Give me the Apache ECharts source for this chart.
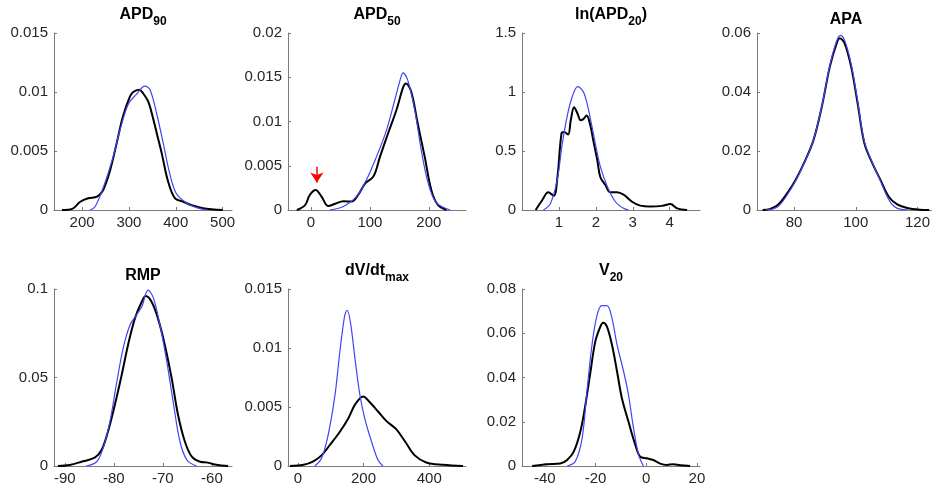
<!DOCTYPE html>
<html><head><meta charset="utf-8">
<script src="https://cdn.jsdelivr.net/npm/echarts@6/dist/echarts.min.js"></script>
<style>html,body{margin:0;padding:0;background:#fff}#c{width:933px;height:490px}</style>
</head><body><div id="c"></div><script>
// ---------- data ----------
// APD90
const apd90X_obs = [157,179,196,213,232,245,260,274,287,302,309,322,330,341,352,360,370,383,398,416,434,458,500];
const apd90Y_obs = [0,0.0001,0.0007,0.001,0.00113,0.0017,0.0034,0.0057,0.0079,0.0096,0.0100,0.0102,0.0099,0.0092,0.0077,0.0064,0.0048,0.0025,0.0010,0.0007,0.0004,0.00015,0];
const apd90X_mod = [217,228,246,264,281,299,316,334,345,359,373,387,401,423,445,466];
const apd90Y_mod = [0,0.0003,0.002,0.0042,0.0068,0.009,0.0098,0.0105,0.0102,0.0082,0.0057,0.0031,0.0014,0.0006,0.0002,0];
const apd90XTicks = [200,300,400,500];
const apd90YTicks = [0,0.005,0.01,0.015];
// APD50
const apd50X_obs = [-24,-10,-2,8,18,29,41,55,69,80,92,106,117,131,145,156,161,170,181,193,204,215,230];
const apd50Y_obs = [0,0.00056,0.0017,0.00226,0.0015,0.00045,0.0007,0.001,0.00095,0.0017,0.003,0.0038,0.006,0.0087,0.0113,0.0138,0.0143,0.0134,0.0098,0.006,0.0023,0.0006,0];
const apd50X_mod = [32,55,77,94,111,128,142,153,156,164,176,187,199,213,236];
const apd50Y_mod = [0,0.0004,0.0015,0.0034,0.006,0.009,0.0124,0.0151,0.0155,0.0147,0.0113,0.0068,0.003,0.0008,0];
const apd50XTicks = [0,100,200];
const apd50YTicks = [0,0.005,0.01,0.015,0.02];
const apd50Arrow = [[10,0.0049],[10,0.0031]];
// ln(APD20)
const lnapd20X_obs = [0.37,0.55,0.71,0.86,0.96,1.07,1.14,1.25,1.32,1.41,1.50,1.59,1.66,1.75,1.84,1.93,2.04,2.12,2.26,2.39,2.57,2.75,2.98,3.20,3.48,3.79,4.02,4.20,4.47];
const lnapd20Y_obs = [0,0.085,0.15,0.12,0.28,0.65,0.66,0.64,0.76,0.87,0.82,0.76,0.77,0.80,0.73,0.59,0.42,0.28,0.21,0.15,0.15,0.13,0.07,0.037,0.03,0.035,0.05,0.014,0];
const lnapd20X_mod = [0.58,0.77,0.95,1.09,1.22,1.36,1.51,1.68,1.86,2.0,2.12,2.31,2.53,2.75,2.89];
const lnapd20Y_mod = [0,0.056,0.25,0.56,0.79,0.96,1.045,0.99,0.76,0.54,0.37,0.2,0.07,0.014,0];
const lnapd20XTicks = [1,2,3,4];
const lnapd20YTicks = [0,0.5,1,1.5];
// APA
const apaX_obs = [69.8,72.1,74.7,77.4,80.5,83.7,86.3,89.0,91.6,93.8,94.8,96.4,98.5,100.6,102.8,105.4,108.0,110.7,113.3,117.0,120.7,123.8];
const apaY_obs = [0,0.0003,0.0017,0.0051,0.0102,0.017,0.0237,0.035,0.0486,0.0565,0.0582,0.0565,0.0486,0.0362,0.0226,0.0158,0.0102,0.0045,0.002,0.0006,0.0001,0];
const apaX_mod = [70.8,73,75,77.4,80.5,83.7,86.3,89,91.6,93.8,95,96.4,98.5,100.6,102.8,105.4,108,110.7,112.5,114.3,117];
const apaY_mod = [0,0.0003,0.0013,0.0045,0.0098,0.0168,0.0237,0.0352,0.049,0.0573,0.0592,0.0575,0.0495,0.037,0.0232,0.016,0.0098,0.0035,0.0012,0.0003,0];
const apaXTicks = [80,100,120];
const apaYTicks = [0,0.02,0.04,0.06];
// RMP
const rmpX_obs = [-91.4,-89,-86.6,-83.9,-82.5,-81.2,-79.8,-78.4,-77.1,-75.7,-74.3,-73.5,-72.3,-71.0,-69.6,-68.2,-66.9,-65.5,-64.1,-62.4,-60.8,-59.1,-56.7];
const rmpY_obs = [0,0.0006,0.0024,0.0047,0.009,0.0194,0.0345,0.0514,0.0684,0.0834,0.0928,0.096,0.0928,0.0834,0.0684,0.0495,0.0288,0.0137,0.0053,0.0024,0.0019,0.0007,0];
const rmpX_mod = [-85.6,-83.5,-82.2,-80.8,-79.5,-78.1,-76.7,-75.4,-74.3,-73.0,-71.9,-70.6,-69.2,-67.8,-66.5,-65.1,-63.1];
const rmpY_mod = [0,0.0024,0.01,0.025,0.0458,0.0665,0.0797,0.0853,0.09,0.0994,0.0947,0.0797,0.059,0.0345,0.0137,0.0034,0];
const rmpXTicks = [-90,-80,-70,-60];
const rmpYTicks = [0,0.05,0.1];
// dV/dt max
const dvdtX_obs = [-24,17,47,72,98,128,153,174,199,219,245,270,300,326,356,391,442,503];
const dvdtY_obs = [0,0.0001,0.0004,0.0009,0.0018,0.0029,0.004,0.0052,0.0059,0.0054,0.0046,0.0038,0.0031,0.0021,0.0009,0.0003,0.0001,0];
const dvdtX_mod = [52,72,92,113,128,143,150,160,174,189,204,224,244,259];
const dvdtY_mod = [0,0.00065,0.0026,0.006,0.0097,0.0128,0.0132,0.0122,0.0091,0.006,0.004,0.0021,0.0005,0];
const dvdtXTicks = [0,200,400];
const dvdtYTicks = [0,0.005,0.01,0.015];
// V20
const v20X_obs = [-45,-39.1,-33.9,-31.2,-28.6,-26,-24,-22,-20.1,-18.1,-17,-15.5,-13.5,-11.5,-9.6,-7,-4.3,-2.4,0.2,2.8,5.5,8.1,10.7,13.4,17.3];
const v20Y_obs = [0,0.0008,0.0011,0.0027,0.0065,0.0155,0.0276,0.0426,0.0562,0.063,0.0648,0.063,0.0547,0.0426,0.0306,0.02,0.0095,0.0042,0.0035,0.0027,0.0011,0.0005,0.0008,0.0003,0];
const v20X_mod = [-31.2,-28,-25.3,-23.4,-21.4,-19.4,-17.5,-15.5,-13.5,-11.5,-8.9,-7,-5,-3,-1.1];
const v20Y_mod = [0,0.002,0.0125,0.0336,0.0547,0.0682,0.0725,0.0725,0.0667,0.0547,0.0426,0.0321,0.017,0.005,0];
const v20XTicks = [-40,-20,0,20];
const v20YTicks = [0,0.02,0.04,0.06,0.08];

// ---------- layout ----------
const FONT = "'Liberation Sans', Arial, sans-serif";
const zip = (xs, ys) => xs.map((x, i) => [x, ys[i]]);
const panels = [
  {main:'APD', sub:'90', post:'', ox:apd90X_obs, oy:apd90Y_obs, mx:apd90X_mod, my:apd90Y_mod, xr:[140,520], xt:apd90XTicks, yr:[0,0.015], yt:apd90YTicks, left:54, top:33},
  {main:'APD', sub:'50', post:'', ox:apd50X_obs, oy:apd50Y_obs, mx:apd50X_mod, my:apd50Y_mod, xr:[-39,263], xt:apd50XTicks, yr:[0,0.02], yt:apd50YTicks, left:288, top:33, arrow:apd50Arrow},
  {main:'ln(APD', sub:'20', post:')', ox:lnapd20X_obs, oy:lnapd20Y_obs, mx:lnapd20X_mod, my:lnapd20Y_mod, xr:[0,4.82], xt:lnapd20XTicks, yr:[0,1.5], yt:lnapd20YTicks, left:522, top:33},
  {main:'APA', sub:'', post:'', ox:apaX_obs, oy:apaY_obs, mx:apaX_mod, my:apaY_mod, xr:[68,124.5], xt:apaXTicks, yr:[0,0.06], yt:apaYTicks, left:757, top:33},
  {main:'RMP', sub:'', post:'', ox:rmpX_obs, oy:rmpY_obs, mx:rmpX_mod, my:rmpY_mod, xr:[-92.2,-55.9], xt:rmpXTicks, yr:[0,0.1], yt:rmpYTicks, left:54, top:289},
  {main:'dV/dt', sub:'max', post:'', ox:dvdtX_obs, oy:dvdtY_obs, mx:dvdtX_mod, my:dvdtY_mod, xr:[-30,512], xt:dvdtXTicks, yr:[0,0.015], yt:dvdtYTicks, left:288, top:289},
  {main:'V', sub:'20', post:'', ox:v20X_obs, oy:v20Y_obs, mx:v20X_mod, my:v20Y_mod, xr:[-49,21.2], xt:v20XTicks, yr:[0,0.08], yt:v20YTicks, left:522, top:289}
];
const W = 178, H = 177;
const axisColor = '#7a7a7a', labelColor = '#262626';

const grid = [], xAxis = [], yAxis = [], series = [], title = [];
panels.forEach((p, i) => {
  grid.push({left:p.left, top:p.top, width:W, height:H, containLabel:false});
  const common = {
    axisLine:{show:true, onZero:false, lineStyle:{color:axisColor, width:1}},
    axisTick:{show:true, inside:true, length:3, lineStyle:{color:axisColor}},
    splitLine:{show:false}
  };
  xAxis.push(Object.assign({}, common, {
    type:'value', gridIndex:i, min:p.xr[0], max:p.xr[1],
    axisTick:Object.assign({}, common.axisTick, {customValues:p.xt}),
    axisLabel:{customValues:p.xt, color:labelColor, fontSize:15, fontFamily:FONT, margin:5}
  }));
  yAxis.push(Object.assign({}, common, {
    type:'value', gridIndex:i, min:p.yr[0], max:p.yr[1],
    axisTick:Object.assign({}, common.axisTick, {customValues:p.yt}),
    axisLabel:{customValues:p.yt, color:labelColor, fontSize:15, fontFamily:FONT, margin:6}
  }));
  const black = {type:'line', xAxisIndex:i, yAxisIndex:i, data:zip(p.ox, p.oy), showSymbol:false, smooth:0.35,
    lineStyle:{color:'#000', width:2}, z:2};
  if (p.arrow) {
    black.markLine = {silent:true, symbol:['none','arrow'], symbolSize:[10,10], label:{show:false},
      lineStyle:{color:'#ff0000', width:1.5, type:'solid'}, itemStyle:{color:'#ff0000'},
      data:[[{coord:p.arrow[0]}, {coord:p.arrow[1]}]]};
  }
  series.push(black);
  series.push({type:'line', xAxisIndex:i, yAxisIndex:i, data:zip(p.mx, p.my), showSymbol:false, smooth:0.35,
    lineStyle:{color:'#4343f5', width:1.2}, z:3});
  const hasSub = p.sub !== '';
  const text = '{m|' + p.main + '}' + (hasSub ? '{s|' + p.sub + '}' : '') + (p.post ? '{m|' + p.post + '}' : '');
  title.push({
    text, left:p.left + W/2, textAlign:'center', top: hasSub ? p.top - 26.5 : p.top - 21.5, padding:0,
    textStyle:{rich:{
      m:{fontSize:16, fontWeight:'bold', fontFamily:FONT, color:'#000', lineHeight:18, verticalAlign:'top'},
      s:{fontSize:12, fontWeight:'bold', fontFamily:FONT, color:'#000', lineHeight:14, padding:[9,0,0,0], verticalAlign:'top'}
    }}
  });
});

const chart = echarts.init(document.getElementById('c'), null, {renderer:'canvas'});
chart.setOption({animation:false, backgroundColor:'#fff', title, grid, xAxis, yAxis, series});
</script></body></html>
